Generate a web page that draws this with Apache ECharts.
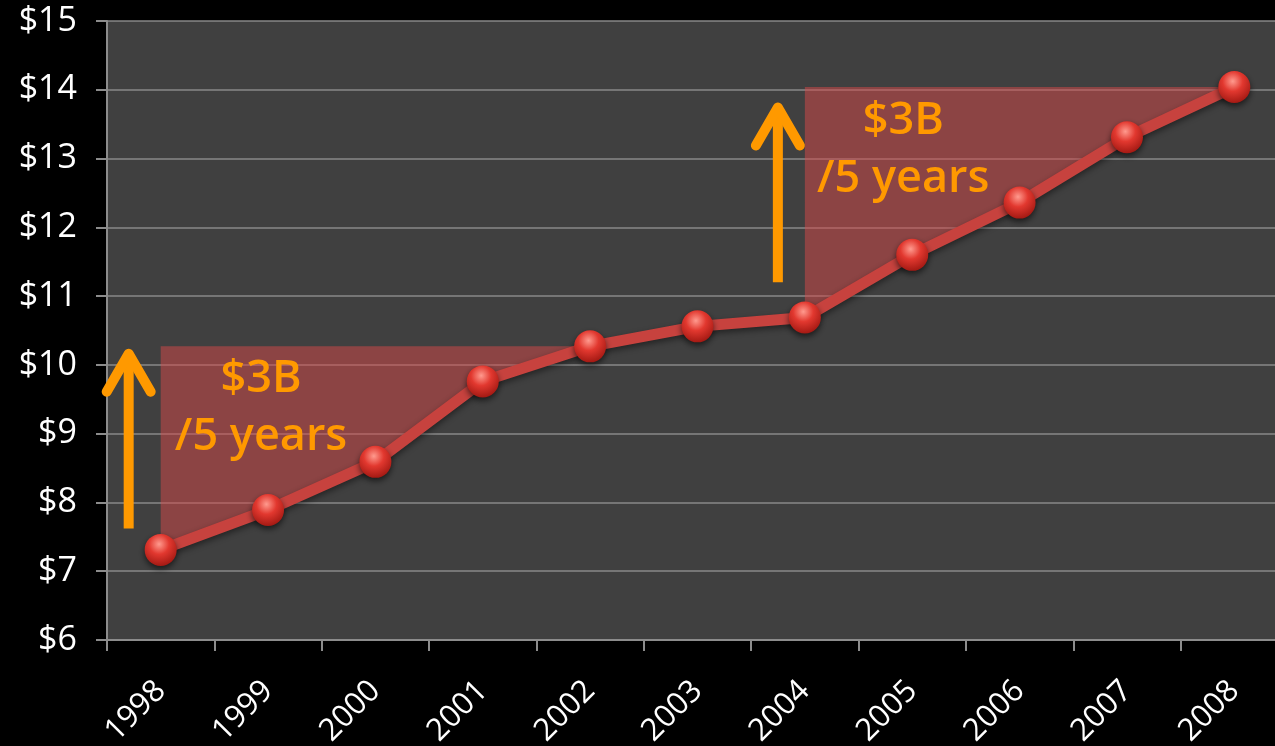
<!DOCTYPE html>
<html>
<head>
<meta charset="utf-8">
<script src="https://cdn.jsdelivr.net/npm/echarts@6/dist/echarts.min.js"></script>
<style>
  html, body { margin: 0; padding: 0; background: #000; }
  #chart { width: 1275px; height: 746px; }
</style>
</head>
<body>
<div id="chart"></div>
<script>
const years = ['1998', '1999', '2000', '2001', '2002', '2003', '2004', '2005', '2006', '2007', '2008']
const revenue = [7.31, 7.89, 8.59, 9.76, 10.27, 10.56, 10.69, 11.6, 12.36, 13.31, 14.04]
const yMin = 6
const yMax = 15
const yStep = 1

// the two "+$3B in 5 years" stretches, as index ranges into years
const growthRanges = [
  [0, 4],
  [6, 10],
]
const growthLabel = '$3B\n/5 years'

const orange = '#ff9900'

function rangeBase(range) {
  return revenue.map((v, i) => (i >= range[0] && i <= range[1] ? v : '-'))
}

function rangeGap(range) {
  const top = revenue[range[1]]
  return revenue.map((v, i) => (i >= range[0] && i <= range[1] ? +(top - v).toFixed(2) : '-'))
}

const shadeSeries = []
growthRanges.forEach((range, k) => {
  shadeSeries.push({
    type: 'line',
    stack: 'growth' + k,
    data: rangeBase(range),
    symbol: 'none',
    lineStyle: { opacity: 0 },
    silent: true,
    z: 1,
  })
  shadeSeries.push({
    type: 'line',
    stack: 'growth' + k,
    data: rangeGap(range),
    symbol: 'none',
    lineStyle: { opacity: 0 },
    areaStyle: { color: 'rgba(215, 72, 72, 0.5)', opacity: 1 },
    silent: true,
    z: 1,
  })
})

const chart = echarts.init(document.getElementById('chart'))

chart.setOption({
  backgroundColor: '#000',
  animation: false,
  grid: {
    left: 107,
    width: 1181,
    top: 21,
    bottom: 106,
    outerBoundsMode: 'none',
    show: true,
    backgroundColor: '#404040',
    borderWidth: 0,
  },
  xAxis: {
    type: 'category',
    data: years,
    boundaryGap: true,
    axisLine: { lineStyle: { color: '#8c8c8c', width: 2 } },
    axisTick: { show: true, length: 11, interval: 0, lineStyle: { color: '#8c8c8c', width: 2 } },
    axisLabel: {
      rotate: 45,
      interval: 0,
      margin: 46,
      color: '#fff',
      fontSize: 31,
      fontFamily: 'Open Sans',
    },
    splitLine: { show: false },
  },
  yAxis: {
    type: 'value',
    min: yMin,
    max: yMax,
    interval: yStep,
    axisLine: { show: true, lineStyle: { color: '#8c8c8c', width: 2 } },
    axisTick: { show: true, length: 11, lineStyle: { color: '#8c8c8c', width: 2 } },
    axisLabel: {
      margin: 30,
      color: '#fff',
      fontSize: 34,
      fontFamily: 'Open Sans',
      formatter: (v) => '$' + v,
    },
    splitLine: { lineStyle: { color: '#888', width: 1.5 } },
  },
  series: [
    ...shadeSeries,
    {
      type: 'line',
      data: revenue,
      z: 5,
      symbol: 'circle',
      symbolSize: 32,
      lineStyle: {
        color: '#c7423e',
        width: 11,
        shadowColor: 'rgba(0, 0, 0, 0.45)',
        shadowBlur: 6,
        shadowOffsetY: 3,
      },
      itemStyle: {
        color: {
          type: 'radial',
          x: 0.45,
          y: 0.32,
          r: 0.7,
          colorStops: [
            { offset: 0, color: '#ff9a8e' },
            { offset: 0.45, color: '#e2382f' },
            { offset: 1, color: '#a11812' },
          ],
        },
        shadowColor: 'rgba(0, 0, 0, 0.6)',
        shadowBlur: 6,
        shadowOffsetY: 3,
      },
    },
  ],
})

// arrows and captions, placed in data space
const arrows = [
  { cat: 0, dx: -32, from: 7.62, to: 10.22 },
  { cat: 6, dx: -27, from: 11.2, to: 13.8 },
]
const captions = [
  { cat: 1, dx: -7, val: 9.37 },
  { cat: 7, dx: -9, val: 13.12 },
]

function toPx(cat, val) {
  return chart.convertToPixel({ xAxisIndex: 0, yAxisIndex: 0 }, [cat, val])
}

const graphics = []
arrows.forEach((a) => {
  const bottom = toPx(a.cat, a.from)
  const tip = toPx(a.cat, a.to)
  const x = bottom[0] + a.dx
  graphics.push({
    type: 'line',
    z: 20,
    shape: { x1: x, y1: bottom[1], x2: x, y2: tip[1] + 4 },
    style: { stroke: orange, lineWidth: 10 },
  })
  graphics.push({
    type: 'polyline',
    z: 20,
    shape: { points: [[x - 22, tip[1] + 42], [x, tip[1] + 4], [x + 22, tip[1] + 42]] },
    style: { stroke: orange, lineWidth: 10, lineCap: 'round', lineJoin: 'round', fill: null },
  })
})
captions.forEach((c) => {
  const p = toPx(c.cat, c.val)
  graphics.push({
    type: 'text',
    z: 20,
    style: {
      text: growthLabel,
      x: p[0] + c.dx,
      y: p[1],
      fill: orange,
      fontSize: 45,
      fontWeight: 600,
      fontFamily: 'Open Sans',
      align: 'center',
      verticalAlign: 'middle',
      lineHeight: 58,
    },
  })
})
chart.setOption({ graphic: graphics })
</script>
</body>
</html>
